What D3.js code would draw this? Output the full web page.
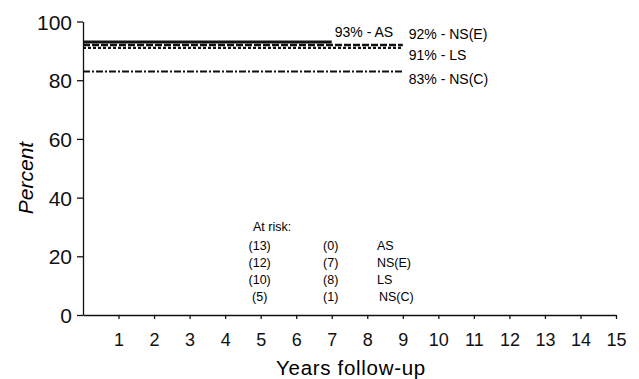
<!DOCTYPE html>
<html>
<head>
  <meta charset="utf-8">
  <title>Percent by years follow-up</title>
  <style>
    body { margin: 0; background: #fff; }
    svg { font-family: "Liberation Sans", Arial, sans-serif; }
    .axis path, .axis line { stroke: #111; stroke-width: 1.3; }
    .axis text { fill: #111; }
  </style>
</head>
<body>
  <script src="https://cdn.jsdelivr.net/npm/d3@7/dist/d3.min.js"></script>
  <script>
    // chart data
    var yearTicks = [1, 2, 3, 4, 5, 6, 7, 8, 9, 10, 11, 12, 13, 14, 15];
    var percentTicks = [0, 20, 40, 60, 80, 100];
    var groups = ["AS", "NS(E)", "LS", "NS(C)"];
    var groupPercent = [93, 92, 91, 83];
    var groupEndYear = [7, 9, 9, 9];
    var riskYears = [5, 7];
    var riskAt5 = [13, 12, 10, 5];
    var riskAt7 = [0, 7, 8, 1];

    var width = 639, height = 379;

    // scales
    var x = d3.scaleLinear().domain([0, 15]).range([83, 616]);
    var y = d3.scaleLinear().domain([0, 100]).range([315, 21.5]);

    var svg = d3.select("body").append("svg")
      .attr("width", width)
      .attr("height", height);

    // y axis
    var yAxis = svg.append("g")
      .attr("class", "axis")
      .attr("transform", "translate(" + x(0) + ",0)")
      .call(d3.axisLeft(y).tickValues(percentTicks).tickSize(6).tickPadding(5).tickSizeOuter(0));
    yAxis.selectAll("text").attr("font-size", 21).attr("dy", "0.36em");

    // x axis
    var xAxis = svg.append("g")
      .attr("class", "axis")
      .attr("transform", "translate(0," + y(0) + ")")
      .call(d3.axisBottom(x).tickValues(yearTicks).tickSize(4).tickPadding(14).tickSizeOuter(0));
    xAxis.selectAll("text").attr("font-size", 18);

    // axis labels
    svg.append("text")
      .attr("transform", "translate(33,178) rotate(-90)")
      .attr("text-anchor", "middle")
      .attr("font-size", 21)
      .attr("font-style", "italic")
      .text("Percent");

    svg.append("text")
      .attr("x", 351)
      .attr("y", 375)
      .attr("text-anchor", "middle")
      .attr("font-size", 20.5)
      .attr("letter-spacing", 0.7)
      .text("Years follow-up");

    // survival lines
    var dashes = [null, "7,2", "3,2", "7,2,2,2"];
    var widths = [3, 2.4, 2.4, 2];
    groups.forEach(function(g, i) {
      var pts = [[0, groupPercent[i]], [groupEndYear[i], groupPercent[i]]];
      svg.append("path")
        .datum(pts)
        .attr("fill", "none")
        .attr("stroke", "#111")
        .attr("stroke-width", widths[i])
        .attr("stroke-dasharray", dashes[i])
        .attr("d", d3.line().x(function(d) { return x(d[0]) }).y(function(d) { return y(d[1]) }));
    });

    // end labels
    var labelX = [x(7) + 3, x(9) + 6, x(9) + 6, x(9) + 6];
    var labelY = [37, 39, 60, 84];
    groups.forEach(function(g, i) {
      svg.append("text")
        .attr("x", labelX[i])
        .attr("y", labelY[i])
        .attr("font-size", 14)
        .text(groupPercent[i] + "% - " + g);
    });

    // at risk table
    svg.append("text")
      .attr("x", 253)
      .attr("y", 231)
      .attr("font-size", 12.5)
      .text("At risk:");

    var rowY = [250, 267, 284, 301];
    [riskAt5, riskAt7].forEach(function(col, c) {
      col.forEach(function(v, i) {
        svg.append("text")
          .attr("x", x(riskYears[c]) - 1)
          .attr("y", rowY[i])
          .attr("text-anchor", "middle")
          .attr("font-size", 12.5)
          .text("(" + v + ")");
      });
    });
    groups.forEach(function(g, i) {
      svg.append("text")
        .attr("x", i == 3 ? 379 : 377)
        .attr("y", rowY[i])
        .attr("font-size", 12.5)
        .text(g);
    });
  </script>
</body>
</html>
